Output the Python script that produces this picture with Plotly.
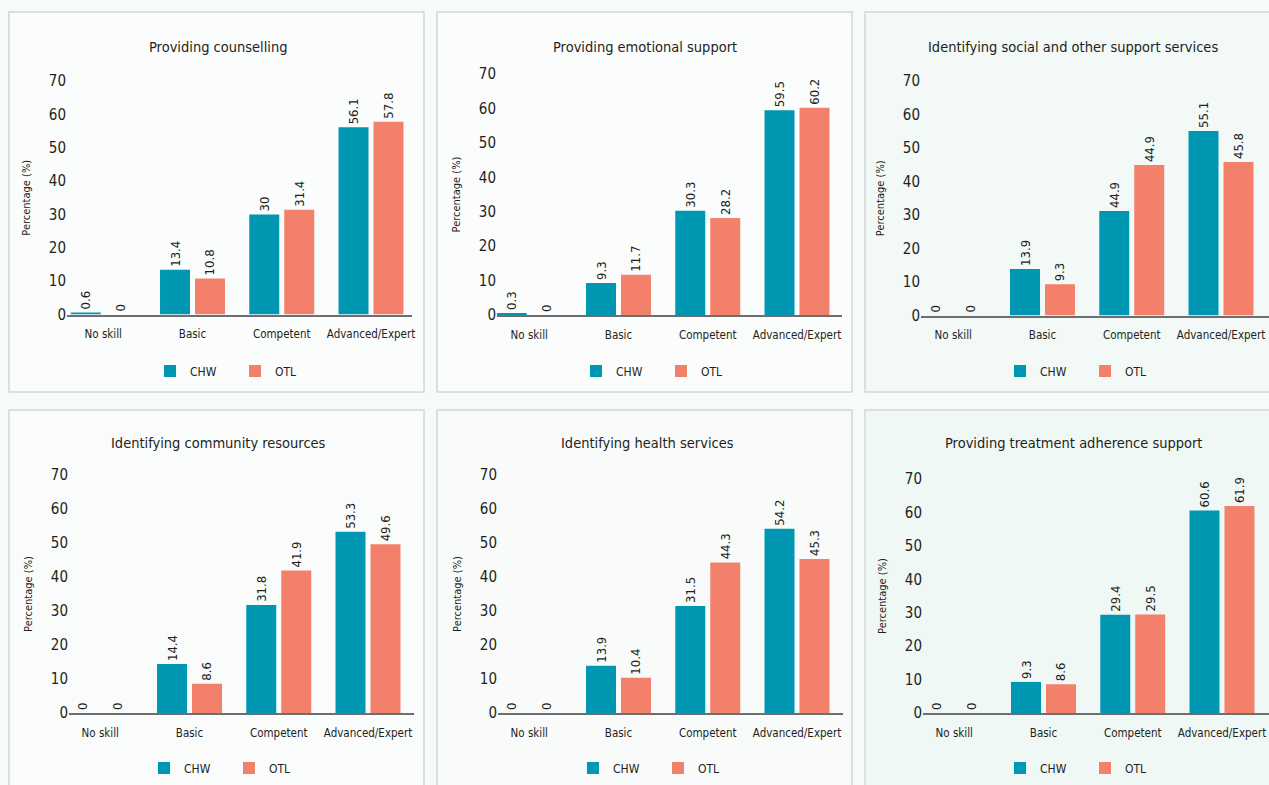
import plotly.graph_objects as go

W, H = 1269, 785

categories = ["No skill", "Basic", "Competent", "Advanced/Expert"]
series_names = ["CHW", "OTL"]
panel_titles = [
    "Providing counselling",
    "Providing emotional support",
    "Identifying social and other support services",
    "Identifying community resources",
    "Identifying health services",
    "Providing treatment adherence support",
]
y_ticks = [0, 10, 20, 30, 40, 50, 60, 70]

# bar heights
counselling_chw = [0.6, 13.4, 30, 56.1]
counselling_otl = [0, 10.8, 31.4, 57.8]
emotional_chw = [0.3, 9.3, 30.3, 59.5]
emotional_otl = [0, 11.7, 28.2, 60.2]
social_chw = [0, 13.9, 31.2, 55.1]
social_otl = [0, 9.3, 44.9, 45.8]
community_chw = [0, 14.4, 31.8, 53.3]
community_otl = [0, 8.6, 41.9, 49.6]
health_chw = [0, 13.9, 31.5, 54.2]
health_otl = [0, 10.4, 44.3, 45.3]
adherence_chw = [0, 9.3, 29.4, 60.6]
adherence_otl = [0, 8.6, 29.5, 61.9]

# printed data labels (as shown in the source)
counselling_chw_lbl = ["0.6", "13.4", "30", "56.1"]
counselling_otl_lbl = ["0", "10.8", "31.4", "57.8"]
emotional_chw_lbl = ["0.3", "9.3", "30.3", "59.5"]
emotional_otl_lbl = ["0", "11.7", "28.2", "60.2"]
social_chw_lbl = ["0", "13.9", "44.9", "55.1"]
social_otl_lbl = ["0", "9.3", "44.9", "45.8"]
community_chw_lbl = ["0", "14.4", "31.8", "53.3"]
community_otl_lbl = ["0", "8.6", "41.9", "49.6"]
health_chw_lbl = ["0", "13.9", "31.5", "54.2"]
health_otl_lbl = ["0", "10.4", "44.3", "45.3"]
adherence_chw_lbl = ["0", "9.3", "29.4", "60.6"]
adherence_otl_lbl = ["0", "8.6", "29.5", "61.9"]

chw_sets = [counselling_chw, emotional_chw, social_chw, community_chw, health_chw, adherence_chw]
otl_sets = [counselling_otl, emotional_otl, social_otl, community_otl, health_otl, adherence_otl]
chw_lbls = [counselling_chw_lbl, emotional_chw_lbl, social_chw_lbl, community_chw_lbl, health_chw_lbl, adherence_chw_lbl]
otl_lbls = [counselling_otl_lbl, emotional_otl_lbl, social_otl_lbl, community_otl_lbl, health_otl_lbl, adherence_otl_lbl]

COL_CHW = "#0097B2"
COL_OTL = "#F3806B"
TXT = "#231F20"
FONT = "DejaVu Sans Condensed, Liberation Sans Narrow, sans-serif"

# panel geometry in window pixels
panels = [
    dict(box=(9, 12, 424, 392), ax=(67, 412), c0=103.25, y=(314.5, 81), title=(218, 47), leg=(163, 371), fill="#FBFCFC"),
    dict(box=(437, 12, 852, 392), ax=(497, 842), c0=529.25, y=(315, 74), title=(645, 47), leg=(589, 371), fill="#FBFCFC"),
    dict(box=(865, 12, 1290, 392), ax=(921, 1269), c0=953.25, y=(315.5, 81), title=(1073, 47), leg=(1013, 371), fill="#F2F9F7"),
    dict(box=(9, 410, 424, 800), ax=(69, 414), c0=100.25, y=(713, 475), title=(218, 443), leg=(157, 768), fill="#FAFCFC"),
    dict(box=(437, 410, 852, 800), ax=(498, 843), c0=529.25, y=(713, 475), title=(647, 443), leg=(586, 768), fill="#F8FBFA"),
    dict(box=(865, 410, 1290, 800), ax=(923, 1269), c0=954.25, y=(713, 479), title=(1073, 443), leg=(1013, 768), fill="#EFF8F5"),
]
SPACING = 89.25

def px(x):
    return x / W

def py(y):
    return 1 - y / H

fig = go.Figure()
layout = {}
shapes = []
annotations = []

for i, p in enumerate(panels):
    n = i + 1
    xa = "x" if n == 1 else f"x{n}"
    ya = "y" if n == 1 else f"y{n}"
    lg = "legend" if n == 1 else f"legend{n}"
    for name, vals, lbls, col in [
        (series_names[0], chw_sets[i], chw_lbls[i], COL_CHW),
        (series_names[1], otl_sets[i], otl_lbls[i], COL_OTL),
    ]:
        fig.add_trace(go.Bar(
            x=categories, y=vals, name=name, marker=dict(color=col, line=dict(width=0)),
            text=lbls, textposition="outside", textangle=-90, constraintext="none",
            textfont=dict(family=FONT, size=13, color=TXT), cliponaxis=False,
            xaxis=xa, yaxis=ya, legend=lg, showlegend=True, hoverinfo="skip",
        ))
    x0, x1 = p["ax"]
    r0 = -(p["c0"] - x0) / SPACING
    r1 = (x1 - p["c0"]) / SPACING
    y0, y70 = p["y"]
    xkey = "xaxis" if n == 1 else f"xaxis{n}"
    ykey = "yaxis" if n == 1 else f"yaxis{n}"
    layout[xkey] = dict(
        domain=[px(x0), px(x1)], range=[r0, r1], anchor=ya, type="category", automargin=False,
        showline=True, linecolor="#6D6E70", linewidth=2, showgrid=False, zeroline=False,
        ticks="", tickangle=0, tickfont=dict(family=FONT, size=11.5, color=TXT), ticklabelstandoff=8,
        fixedrange=True,
    )
    layout[ykey] = dict(
        domain=[py(y0), py(y70)], range=[0, 70], anchor=xa, tickvals=y_ticks, automargin=False,
        showline=False, showgrid=False, zeroline=False, ticks="",
        tickfont=dict(family=FONT, size=15, color=TXT),
        title=dict(text="Percentage (%)", font=dict(family=FONT, size=11, color=TXT)),
        fixedrange=True,
    )
    lx, ly = p["leg"]
    layout[lg] = dict(
        x=px(lx - 13), y=py(ly), xanchor="left", yanchor="middle", orientation="h",
        bgcolor="rgba(0,0,0,0)", borderwidth=0, font=dict(family=FONT, size=12, color=TXT),
        entrywidth=40, entrywidthmode="pixels", traceorder="normal",
    )
    bx0, by0, bx1, by1 = p["box"]
    shapes.append(dict(
        type="rect", xref="paper", yref="paper", x0=px(bx0), x1=px(bx1), y0=py(by1), y1=py(by0),
        line=dict(color="#D3D6D6", width=1.5), fillcolor=p["fill"], layer="below",
    ))
    tx, ty = p["title"]
    annotations.append(dict(
        text=panel_titles[i], x=px(tx), y=py(ty), xref="paper", yref="paper",
        xanchor="center", yanchor="middle", showarrow=False,
        font=dict(family=FONT, size=14.5, color=TXT),
    ))

fig.update_layout(
    width=W, height=H, margin=dict(l=0, r=0, t=0, b=0, pad=0, autoexpand=False),
    paper_bgcolor="#F6FAF9", plot_bgcolor="rgba(0,0,0,0)",
    barmode="group", bargap=0.216, bargroupgap=0.143,
    shapes=shapes, annotations=annotations, **layout,
)

fig.write_html(
    "out.html",
    config={"displayModeBar": False},
    post_script="document.body.style.margin='0';document.body.style.overflow='hidden';",
)
